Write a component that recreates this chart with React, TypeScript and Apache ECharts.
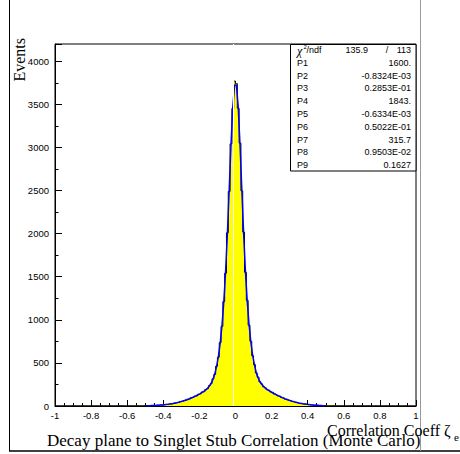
import React, { useEffect, useRef } from "react";
import * as echarts from "echarts";

// Histogram: 200 bins of width 0.01 over [-1, 1]
const histLeftTail = [
  0, 1, 0, 0, 1, 0, 0, 2, 0, 1, 0, 1, 0, 0, 1, 1, 0, 2, 1, 0, 1, 0, 1, 2, 0,
  1, 1, 2, 1, 0, 2, 1, 1, 2, 1, 2, 1, 3, 2, 1, 2, 2, 3, 2, 2, 3, 2, 3, 3, 4,
];
const histCore = [
  4, 2, 5, 3, 7, 5, 9, 8, 13, 11, 15, 19, 17, 24, 25, 31, 33, 40, 41, 52, 53, 64,
  66, 79, 82, 97, 99, 115, 118, 137, 141, 162, 166, 192, 201, 236, 259, 315, 366,
  462, 565, 734, 924, 1212, 1541, 2010, 2489, 3041, 3452, 3770,
  3741, 3455, 3050, 2496, 2018, 1552, 1226, 938, 751, 582, 481, 384, 335, 279,
  257, 224, 212, 189, 183, 162, 158, 139, 134, 118, 114, 98, 95, 80, 77, 66, 63,
  52, 50, 41, 39, 31, 30, 23, 23, 18, 17, 13, 12, 9, 10, 7, 6, 5, 3, 4,
];
const histRightTail = [
  3, 3, 2, 3, 2, 2, 3, 1, 2, 2, 1, 2, 1, 1, 2, 1, 0, 1, 2, 1, 1, 0, 1, 1, 0, 1,
  0, 1, 1, 0, 0, 1, 0, 1, 0, 0, 1, 0, 0, 1, 0, 0, 0, 1, 0, 0, 1, 0, 0, 0,
];
// Fit curve values at the centres of the bins from -0.5 to 0.5
const fitCore = [
  3, 3, 4, 5, 5, 6, 8, 9, 11, 12, 14, 17, 19, 22, 26, 29, 34, 38, 43, 49, 55, 61,
  69, 76, 84, 93, 102, 111, 122, 132, 144, 157, 170, 186, 205, 230, 263, 308, 370,
  456, 571, 726, 931, 1201, 1553, 1993, 2504, 3027, 3468, 3724,
  3725, 3471, 3032, 2511, 2003, 1565, 1215, 946, 742, 589, 475, 390, 329, 284,
  252, 228, 208, 193, 179, 166, 154, 142, 131, 121, 111, 101, 92, 83, 75, 68, 61,
  54, 48, 43, 38, 33, 29, 25, 22, 19, 17, 14, 12, 10, 9, 8, 6, 5, 4, 4,
];

const statNames = ["P1", "P2", "P3", "P4", "P5", "P6", "P7", "P8", "P9"];
const statValues = [
  "1600.",
  "-0.8324E-03",
  "0.2853E-01",
  "1843.",
  "-0.6334E-03",
  "0.5022E-01",
  "315.7",
  "0.9503E-02",
  "0.1627",
];
const chi2Value = "135.9";
const ndfValue = "113";

const xAxisTitle = "Correlation Coeff ζ";
const yAxisTitle = "Events";
const chartTitle = "Decay plane to Singlet Stub Correlation (Monte Carlo)";

const SANS = "'Liberation Sans', Arial, Helvetica, sans-serif";
const SERIF = "'Liberation Serif', 'Times New Roman', serif";

export default function App() {
  const ref = useRef<HTMLDivElement>(null);

  useEffect(() => {
    if (!ref.current) return;
    const chart = echarts.init(ref.current, null, { renderer: "svg" });

    const allHist = [...histLeftTail, ...histCore, ...histRightTail];
    const histData = allHist.map((v, i) => [+(-1 + (i + 0.5) * 0.01).toFixed(3), v]);
    const fitData = fitCore.map((v, i) => [+(-0.5 + (i + 0.5) * 0.01).toFixed(3), v]);

    const graphics: any[] = [
      // outer canvas frame
      { type: "line", shape: { x1: 9.5, y1: 0, x2: 9.5, y2: 451 }, style: { stroke: "#000", lineWidth: 1 }, z: 10 },
      { type: "line", shape: { x1: 9, y1: 451, x2: 460, y2: 451 }, style: { stroke: "#000", lineWidth: 1.5 }, z: 10 },
      { type: "line", shape: { x1: 420.5, y1: 0, x2: 420.5, y2: 451 }, style: { stroke: "#999", lineWidth: 1 }, z: 10 },
      // stats box
      {
        type: "rect",
        shape: { x: 290.5, y: 44.5, width: 125.5, height: 126.5 },
        style: { fill: "#fff", stroke: "#000", lineWidth: 1 },
        z: 20,
      },
      { type: "text", x: 297, y: 51, z: 21, style: { text: "χ", font: `italic 12px ${SERIF}`, fill: "#000", verticalAlign: "middle" } },
      { type: "text", x: 303.5, y: 46.5, z: 21, style: { text: "2", font: `6px ${SANS}`, fill: "#000", verticalAlign: "middle" } },
      { type: "text", x: 306.5, y: 50, z: 21, style: { text: "/ndf", font: `9px ${SANS}`, fill: "#000", verticalAlign: "middle" } },
      { type: "text", x: 368, y: 50, z: 21, style: { text: chi2Value, font: `9px ${SANS}`, fill: "#000", align: "right", verticalAlign: "middle" } },
      { type: "text", x: 387, y: 50, z: 21, style: { text: "/", font: `9px ${SANS}`, fill: "#000", align: "center", verticalAlign: "middle" } },
      { type: "text", x: 411, y: 50, z: 21, style: { text: ndfValue, font: `9px ${SANS}`, fill: "#000", align: "right", verticalAlign: "middle" } },
      // axis titles
      {
        type: "text",
        x: 19,
        y: 38,
        rotation: Math.PI / 2,
        z: 10,
        style: { text: yAxisTitle, font: `16px ${SERIF}`, fill: "#000", align: "right", verticalAlign: "middle" },
      },
      { type: "text", x: 327, y: 430, z: 10, style: { text: xAxisTitle, font: `16px ${SERIF}`, fill: "#000", verticalAlign: "middle" } },
      { type: "text", x: 454, y: 437, z: 10, style: { text: "e", font: `11px ${SERIF}`, fill: "#000", verticalAlign: "middle" } },
      { type: "text", x: 47, y: 440, z: 11, style: { text: chartTitle, font: `17px ${SERIF}`, fill: "#000", verticalAlign: "middle" } },
    ];
    statNames.forEach((n, i) => {
      const y = 62.8 + i * 12.8;
      graphics.push({ type: "text", x: 297, y, z: 21, style: { text: n, font: `9px ${SANS}`, fill: "#000", verticalAlign: "middle" } });
      graphics.push({
        type: "text",
        x: 411,
        y,
        z: 21,
        style: { text: statValues[i], font: `9px ${SANS}`, fill: "#000", align: "right", verticalAlign: "middle" },
      });
    });

    chart.setOption({
      animation: false,
      backgroundColor: "#fff",
      grid: {
        left: 55,
        right: 44,
        top: 44,
        bottom: 48,
        containLabel: false,
        outerBoundsMode: "none",
        show: true,
        borderColor: "#000",
        borderWidth: 1,
        backgroundColor: "transparent",
      },
      xAxis: {
        type: "value",
        min: -1,
        max: 1,
        interval: 0.2,
        axisLine: { show: true, onZero: false, lineStyle: { color: "#000", width: 1 } },
        axisTick: { show: true, inside: true, length: 6, lineStyle: { color: "#000" } },
        minorTick: { show: true, splitNumber: 4, length: 3, lineStyle: { color: "#000" } },
        splitLine: { show: false },
        axisLabel: { color: "#000", fontFamily: SANS, fontSize: 9.5, margin: 4 },
      },
      yAxis: {
        type: "value",
        min: 0,
        max: 4200,
        interval: 500,
        axisLine: { show: true, onZero: false, lineStyle: { color: "#000", width: 1 } },
        axisTick: { show: true, inside: true, length: 7, lineStyle: { color: "#000" } },
        minorTick: { show: true, splitNumber: 2, length: 3.5, lineStyle: { color: "#000" } },
        splitLine: { show: false },
        axisLabel: {
          color: "#000",
          fontFamily: SANS,
          fontSize: 9.5,
          margin: 6,
          formatter: (v: number) => (v % 500 === 0 ? String(v) : ""),
        },
      },
      series: [
        {
          type: "line",
          step: "middle",
          data: histData,
          symbol: "none",
          z: 1,
          lineStyle: { width: 0, opacity: 0 },
          areaStyle: { color: "#ffff00", opacity: 1 },
          markLine: {
            silent: true,
            symbol: "none",
            label: { show: false },
            lineStyle: { color: "#fffff4", width: 1, type: "solid" },
            data: [{ xAxis: -0.01 }],
          },
        },
        {
          type: "line",
          step: "middle",
          data: histData,
          symbol: "none",
          z: 3,
          lineStyle: { color: "#000", width: 1 },
        },
        {
          type: "line",
          data: fitData,
          symbol: "none",
          z: 4,
          lineStyle: { color: "#0000ff", width: 1.5 },
        },
      ],
      graphic: graphics,
    });

    return () => chart.dispose();
  }, []);

  return <div ref={ref} style={{ width: 460, height: 454, position: "absolute", left: 0, top: 0 }} />;
}
